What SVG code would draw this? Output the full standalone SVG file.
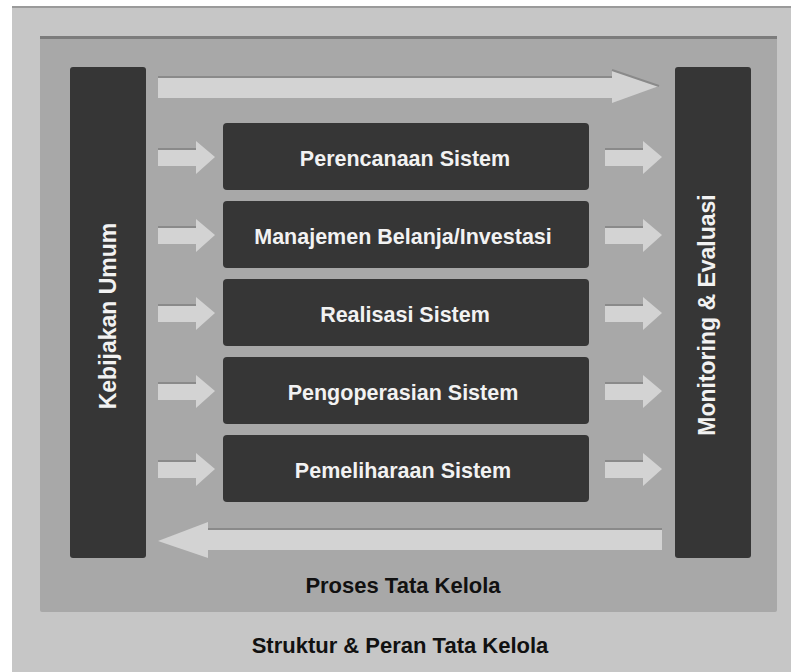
<svg xmlns="http://www.w3.org/2000/svg" width="794" height="672" viewBox="0 0 794 672">
<defs>
<style>
.dark{fill:#363636}
.arr{fill:#d3d3d3}
.edge{fill:#8a8a8a}
.bt{font-family:"Liberation Sans",Arial,sans-serif;font-weight:bold;font-size:21.5px;fill:#f2f2f2;text-anchor:middle}
.vt{font-family:"Liberation Sans",Arial,sans-serif;font-weight:bold;font-size:23px;fill:#f2f2f2;text-anchor:middle}
.lt{font-family:"Liberation Sans",Arial,sans-serif;font-weight:bold;font-size:22px;fill:#111;text-anchor:middle}
</style>
<g id="sa">
<rect class="arr" x="0" y="-8" width="40" height="17"/>
<rect class="edge" x="0" y="-9" width="40" height="2"/>
<polygon class="arr" points="38,-16 57,0 38,17"/>
</g>
</defs>
<rect x="0" y="0" width="794" height="672" fill="#ffffff"/>
<g id="outer-panel">
<rect x="12" y="6" width="779" height="666" fill="#c6c6c6"/>
<rect x="12" y="6" width="779" height="2" fill="#9a9a9a"/>
</g>
<g id="inner-panel">
<rect x="40" y="36" width="737" height="576" fill="#a8a8a8" rx="2"/>
<rect x="40" y="36" width="737" height="3" fill="#7c7c7c"/>
<text class="lt" x="403" y="593">Proses Tata Kelola</text>
</g>
<g id="kebijakan-umum">
<rect class="dark" x="70" y="67" width="76" height="491" rx="3"/>
<text class="vt" transform="translate(116,316) rotate(-90)">Kebijakan Umum</text>
</g>
<g id="monitoring-evaluasi">
<rect class="dark" x="675" y="67" width="76" height="491" rx="3"/>
<text class="vt" transform="translate(715,315) rotate(-90)">Monitoring &amp; Evaluasi</text>
</g>
<g id="perencanaan-sistem">
<rect class="dark" x="223" y="123" width="366" height="67" rx="4"/>
<text class="bt" x="405" y="166">Perencanaan Sistem</text>
</g>
<g id="manajemen-belanja">
<rect class="dark" x="223" y="201" width="366" height="67" rx="4"/>
<text class="bt" x="403" y="244">Manajemen Belanja/Investasi</text>
</g>
<g id="realisasi-sistem">
<rect class="dark" x="223" y="279" width="366" height="67" rx="4"/>
<text class="bt" x="405" y="322">Realisasi Sistem</text>
</g>
<g id="pengoperasian-sistem">
<rect class="dark" x="223" y="357" width="366" height="67" rx="4"/>
<text class="bt" x="403" y="400">Pengoperasian Sistem</text>
</g>
<g id="pemeliharaan-sistem">
<rect class="dark" x="223" y="435" width="366" height="67" rx="4"/>
<text class="bt" x="403" y="478">Pemeliharaan Sistem</text>
</g>
<g id="connectors">
<g id="top-arrow">
<rect class="arr" x="158" y="77" width="456" height="21"/>
<rect class="edge" x="158" y="76" width="454" height="2"/>
<polygon class="arr" points="612,70 659,86 612,103"/>
<line x1="612" y1="70" x2="659" y2="86" stroke="#8a8a8a" stroke-width="2"/>
</g>
<g id="bottom-arrow">
<rect class="arr" x="206" y="530" width="456" height="20"/>
<rect class="edge" x="208" y="528" width="454" height="2"/>
<polygon class="arr" points="208,522 158,541 208,558"/>
</g>
<use href="#sa" x="158" y="157"/>
<use href="#sa" x="158" y="235"/>
<use href="#sa" x="158" y="313"/>
<use href="#sa" x="158" y="391"/>
<use href="#sa" x="158" y="469"/>
<use href="#sa" x="605" y="157"/>
<use href="#sa" x="605" y="235"/>
<use href="#sa" x="605" y="313"/>
<use href="#sa" x="605" y="391"/>
<use href="#sa" x="605" y="469"/>
</g>
<g id="footer">
<text class="lt" x="400" y="653">Struktur &amp; Peran Tata Kelola</text>
</g>
</svg>
